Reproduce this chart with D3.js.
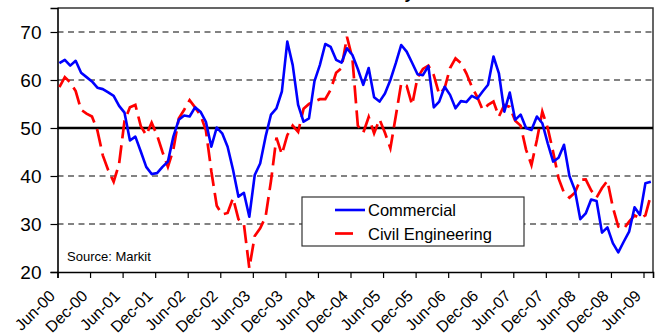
<!DOCTYPE html>
<html>
<head>
<meta charset="utf-8">
<script src="https://cdn.jsdelivr.net/npm/d3@7"></script>
<style>
  html, body { margin: 0; padding: 0; background: #fff; }
  svg { display: block; font-family: "Liberation Sans", Arial, sans-serif; }
</style>
</head>
<body>
<svg id="chart" width="658" height="335"></svg>
<script>
// Monthly index readings, Jun-00 .. Jul-09
const commercial = [
  63.5, 64.2, 63.0, 64.0, 61.5, 60.6, 59.7, 58.4, 58.1, 57.4, 56.7, 54.6,
  53.2, 47.4, 48.2, 45.1, 41.9, 40.4, 40.6, 41.9, 43.0, 48.2, 51.7, 52.6,
  52.4, 54.3, 53.4, 51.3, 46.1, 50.1, 48.9, 46.1, 41.3, 35.7, 36.5, 31.5,
  40.2, 42.6, 48.2, 52.8, 54.1, 57.6, 68.0, 63.1, 54.8, 51.3, 52.0, 59.7,
  63.1, 67.5, 66.9, 64.2, 63.6, 66.6, 65.2, 62.3, 59.0, 62.5, 56.4, 55.5,
  57.2, 60.0, 63.5, 67.3, 65.9, 63.6, 61.2, 61.0, 62.9, 54.3, 55.5, 58.6,
  56.9, 54.1, 55.6, 55.4, 56.7, 56.1, 57.6, 59.0, 64.9, 61.4, 53.4, 57.4,
  51.7, 52.8, 50.0, 49.6, 52.4, 51.0, 46.8, 43.0, 43.8, 46.5, 40.0, 37.1,
  31.0, 32.2, 35.1, 34.8, 28.2, 29.3, 26.0, 24.1, 26.3, 28.4, 33.5, 31.9,
  38.5, 38.8
];
const civilEngineering = [
  58.5, 60.6, 59.5, 57.7, 53.8, 53.0, 52.4, 49.5, 44.3, 41.2, 38.8, 42.5,
  51.5, 54.3, 54.8, 50.4, 48.5, 51.1, 48.5, 45.0, 41.9, 45.5, 52.0, 53.8,
  55.8, 54.3, 52.7, 49.5, 41.0, 33.8, 32.0, 32.3, 35.4, 31.0, 30.0, 20.8,
  27.5, 29.1, 31.5, 39.0, 48.0, 44.5, 48.5, 50.5, 49.2, 54.0, 55.0, 55.5,
  56.0, 56.0, 58.0, 61.5, 62.5, 69.0, 64.5, 50.5, 49.0, 52.3, 48.9, 51.8,
  49.0, 45.8, 52.5, 59.3, 58.8, 54.8, 60.5, 62.3, 63.0, 61.0, 57.0, 58.3,
  62.5, 64.5, 63.5, 61.4, 58.6, 56.5, 53.8, 54.8, 55.5, 52.4, 54.8, 54.4,
  51.5, 50.5, 45.5, 42.3, 47.5, 53.4, 50.0, 45.0, 39.5, 36.5, 35.5, 36.5,
  39.2, 39.3, 37.0, 35.5, 37.5, 39.0, 33.5, 29.5, 29.0, 30.5, 31.8, 31.2,
  31.8, 36.0
];
const monthTickLabels = [
  "Jun-00", "Dec-00", "Jun-01", "Dec-01", "Jun-02", "Dec-02", "Jun-03",
  "Dec-03", "Jun-04", "Dec-04", "Jun-05", "Dec-05", "Jun-06", "Dec-06",
  "Jun-07", "Dec-07", "Jun-08", "Dec-08", "Jun-09"
];
const yTickValues = [20, 30, 40, 50, 60, 70];
const gridValues = [30, 40, 60, 70];
const seriesNames = ["Commercial", "Civil Engineering"];

const svg = d3.select("#chart");
const plotLeft = 57.5, plotRight = 653, plotTop = 8, plotBottom = 272;

// x runs in months from Jun-00; each reading sits a little past its month tick
const pointOffset = 0.35;
const x = d3.scaleLinear().domain([0, 109.75]).range([plotLeft, plotRight]);
const y = d3.scaleLinear().domain([20, 75]).range([plotBottom, plotTop]);

// Title, sitting above the top edge of the page
svg.append("text")
  .attr("x", 414).attr("y", -1.5)
  .attr("text-anchor", "end")
  .attr("font-size", 17).attr("font-weight", "bold")
  .attr("fill", "#000")
  .text("Construction Activity");

// Dashed horizontal gridlines
svg.append("g").selectAll("line").data(gridValues).join("line")
  .attr("x1", plotLeft).attr("x2", plotRight)
  .attr("y1", d => y(d)).attr("y2", d => y(d))
  .attr("stroke", "#5a5a5a").attr("stroke-width", 1.5)
  .attr("stroke-dasharray", "6,4.5");

// Plot frame (top and right)
svg.append("path")
  .attr("d", `M${plotLeft},${plotTop}H${plotRight}V${plotBottom}`)
  .attr("fill", "none").attr("stroke", "#333").attr("stroke-width", 1.5);

// Y axis
const yAxis = svg.append("g")
  .attr("transform", `translate(${plotLeft},0)`)
  .call(d3.axisLeft(y).tickValues(yTickValues).tickSize(7).tickPadding(9).tickFormat(d3.format("d")));
yAxis.select(".domain").attr("stroke", "#000").attr("stroke-width", 1.6);
yAxis.selectAll(".tick line").attr("stroke", "#000").attr("stroke-width", 1.2);
yAxis.selectAll(".tick text")
  .attr("font-size", 19).attr("font-family", "'Liberation Sans', Arial, sans-serif")
  .attr("fill", "#000");

// X axis: a tick every six months
const tickMonths = monthTickLabels.map((_, i) => i * 6);
const xAxis = svg.append("g")
  .attr("transform", `translate(0,${plotBottom})`)
  .call(d3.axisBottom(x).tickValues(tickMonths).tickSize(6).tickFormat((d, i) => monthTickLabels[i]));
xAxis.select(".domain").attr("stroke", "#000").attr("stroke-width", 1.6);
xAxis.selectAll(".tick line").attr("stroke", "#000").attr("stroke-width", 1.2);
xAxis.selectAll(".tick text")
  .attr("font-size", 16).attr("font-family", "'Liberation Sans', Arial, sans-serif")
  .attr("fill", "#000")
  .attr("text-anchor", "end")
  .attr("dy", null).attr("y", null)
  .attr("transform", "translate(-2,25) rotate(-45)");

// The 50 no-change line
svg.append("line")
  .attr("x1", plotLeft).attr("x2", plotRight)
  .attr("y1", y(50)).attr("y2", y(50))
  .attr("stroke", "#000").attr("stroke-width", 2.6);

// Series lines
const line = d3.line().x((d, i) => x(i + pointOffset)).y(d => y(d));
svg.append("path").datum(civilEngineering)
  .attr("d", line).attr("fill", "none")
  .attr("stroke", "#ff0000").attr("stroke-width", 2.7)
  .attr("stroke-dasharray", "18,7");
svg.append("path").datum(commercial)
  .attr("d", line).attr("fill", "none")
  .attr("stroke", "#0000ff").attr("stroke-width", 2.6)
  .attr("stroke-linejoin", "round");

// Source note
svg.append("text")
  .attr("x", 67).attr("y", 261)
  .attr("font-size", 13).attr("fill", "#000")
  .text("Source: Markit");

// Legend
const lg = svg.append("g");
lg.append("rect")
  .attr("x", 302).attr("y", 197).attr("width", 222).attr("height", 49)
  .attr("fill", "#fff").attr("stroke", "#333").attr("stroke-width", 1.2);
lg.append("line").attr("x1", 335).attr("x2", 365).attr("y1", 210).attr("y2", 210)
  .attr("stroke", "#0000ff").attr("stroke-width", 2.6);
lg.append("line").attr("x1", 335).attr("x2", 353).attr("y1", 233.5).attr("y2", 233.5)
  .attr("stroke", "#ff0000").attr("stroke-width", 2.7);
lg.selectAll("text").data(seriesNames).join("text")
  .attr("x", 368).attr("y", (d, i) => 216 + i * 24)
  .attr("font-size", 16.5).attr("fill", "#000")
  .text(d => d);
</script>
</body>
</html>
